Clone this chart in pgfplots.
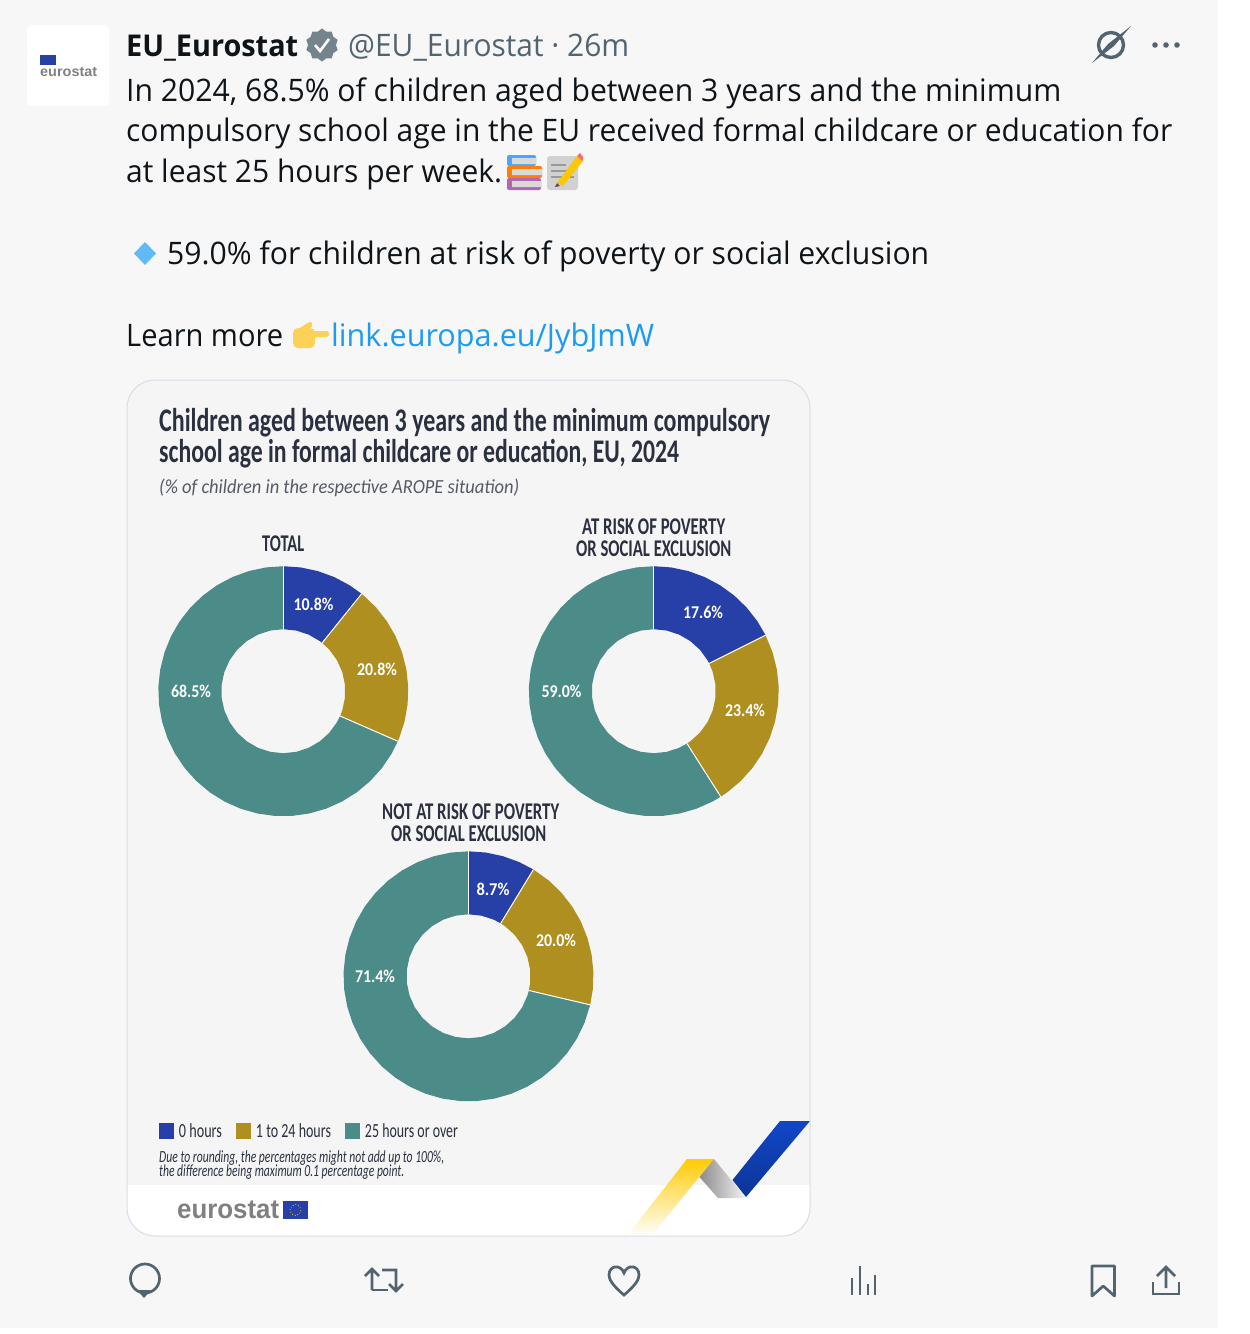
\documentclass[border=0pt]{standalone}
\usepackage{pgfplots}
\pgfplotsset{compat=1.18}
\usepgfplotslibrary{polar}
\usetikzlibrary{shapes.geometric}
\usepackage{graphicx}
\usepackage{fontspec}
\setmainfont{Open Sans}
\newfontfamily\tw{Open Sans}
\newfontfamily\ch{Carlito}
\newfontfamily\lib{Liberation Sans}
\definecolor{cblue}{HTML}{2740A8}
\definecolor{cgold}{HTML}{B08F21}
\definecolor{cteal}{HTML}{4B8C89}
\definecolor{twtext}{HTML}{0F1419}
\definecolor{twgray}{HTML}{536471}
\definecolor{twlink}{HTML}{1D9BF0}
\definecolor{bgpage}{HTML}{F7F7F7}
\definecolor{bgcard}{HTML}{F5F5F5}
\definecolor{ctitle}{HTML}{2B3040}
\definecolor{decoY}{HTML}{FFCB05}
\definecolor{decoB}{HTML}{1146C8}
\definecolor{decoD}{HTML}{0C3596}
\definecolor{cardline}{HTML}{D5DEE6}
% x, baseline y, width, font, colour, text
\newcommand{\T}[6]{\node[anchor=base west,inner sep=0pt,text=#5] at (#1,#2) {\resizebox{#3pt}{\height}{#4\ignorespaces#6}};}
\newcommand{\tweet}{\tw\fontsize{31}{31}\selectfont}
\newcommand{\lab}{\ch\bfseries\fontsize{24}{24}\selectfont}
\newcommand{\val}[4][white]{\node[inner sep=0pt,text=#1] at (#2,#3) {\resizebox{40pt}{\height}{\ch\bfseries\fontsize{18}{18}\selectfont #4}};}
\newcommand{\leg}[2]{\raisebox{4.5pt}[\height][\depth]{\resizebox{#1pt}{\height}{\ch\color{ctitle}\fontsize{20}{20}\selectfont #2}}}
\pgfplotsset{donut/.style={hide axis,scale only axis,width=250pt,height=250pt,
  xmin=0,xmax=360,ymin=0,ymax=125,clip=false,anchor=center},
  sep/.style={forget plot,draw=white,line width=1pt,no markers}}
\begin{document}
\begin{tikzpicture}[x=1pt,y=-1pt]
\path[use as bounding box,fill=white] (0,0) rectangle (1250,1334);
\fill[bgpage] (0,0) rectangle (1218,1328);
% avatar
\fill[white,rounded corners=5pt] (27,25) rectangle (109,106);
\fill[cblue] (40,55) rectangle (56,65);
\T{40}{76}{57}{\lib\bfseries\fontsize{14}{14}\selectfont}{black!50}{eurostat}
% header
\T{126}{56}{172}{\tw\bfseries\fontsize{30}{30}\selectfont}{twtext}{EU\_Eurostat}
\node[star,star points=10,star point ratio=1.18,fill=twgray!80,inner sep=0pt,minimum size=33pt] at (322,45) {};
\draw[white,line width=2.6pt] (315,45) -- (320,51) -- (329,39);
\T{348}{56}{281}{\tweet}{twgray}{@EU\_Eurostat · 26m}
\draw[twgray,line width=3.4pt] (1111,45) circle (12.5);
\fill[twgray] (1092,63) -- (1108,44) -- (1131,26) -- (1114,46) -- cycle;
\fill[twgray] (1155,45) circle (2.8) (1166,45) circle (2.8) (1177,45) circle (2.8);
% tweet text
\T{126}{101}{935}{\tweet}{twtext}{In 2024, 68.5\% of children aged between 3 years and the minimum}
\T{126}{141}{1046}{\tweet}{twtext}{compulsory school age in the EU received formal childcare or education for}
\T{126}{182}{376}{\tweet}{twtext}{at least 25 hours per week.}
\T{167}{264}{762}{\tweet}{twtext}{59.0\% for children at risk of poverty or social exclusion}
\T{126}{346}{157}{\tweet}{twtext}{Learn more}
\T{331}{346}{323}{\tweet}{twlink}{link.europa.eu/JybJmW}
% books emoji
\fill[rounded corners=2pt,fill=blue!50!cyan!70] (507,155) rectangle (536,166);
\fill[rounded corners=2pt,fill=orange] (507,166) rectangle (542,178);
\fill[rounded corners=2pt,fill=violet!60] (507,178) rectangle (541,190);
\fill[black!15] (512,158) rectangle (536,164) (512,169) rectangle (542,175) (512,181) rectangle (541,187);
% memo emoji
\fill[rounded corners=3pt,fill=black!18] (547,156) rectangle (578,190);
\draw[black!40,line width=1.4pt] (551,165) -- (566,165) (551,171) -- (568,171) (551,177) -- (574,177);
\fill[yellow!60!orange] (557,183) -- (577,156) -- (583,161) -- (563,186) -- cycle;
\fill[red!60] (577,156) -- (580,153) -- (583,157) -- (583,161) -- cycle;
\fill[black!70] (557,183) -- (555,187) -- (560,186) -- cycle;
% diamond and hand
\fill[twlink!70] (145,242) -- (156,253.5) -- (145,265) -- (134,253.5) -- cycle;
\fill[yellow!50!orange!65,rounded corners=5pt] (293,328) rectangle (315,348);
\fill[yellow!50!orange!65,rounded corners=2.5pt] (305,331) rectangle (329,337);
\fill[yellow!50!orange!65,rounded corners=2.5pt] (298,329) -- (311,321) -- (313,325) -- (306,334) -- cycle;
% card
\fill[bgcard,rounded corners=28pt] (127,380) rectangle (810,1236);
\begin{scope}
\clip[rounded corners=28pt] (127,380) rectangle (810,1236);
\fill[white] (127,1185) rectangle (810,1236);
\shade[top color=decoY,bottom color=white] (687,1159) -- (714,1159) -- (651,1236) -- (627,1236) -- cycle;
\shade[left color=black!45,right color=black!5] (714,1159) -- (746,1198) -- (718,1198) -- (699.5,1177) -- cycle;
\shade[top color=decoB,bottom color=decoD] (780,1121) -- (810,1121) -- (746,1197) -- (732.5,1180) -- cycle;
\end{scope}
\draw[cardline,line width=1pt,rounded corners=28pt] (127,380) rectangle (810,1236);
% chart text
\T{159}{431}{611}{\ch\bfseries\fontsize{33}{33}\selectfont}{ctitle}{Children aged between 3 years and the minimum compulsory}
\T{159}{462}{520}{\ch\bfseries\fontsize{33}{33}\selectfont}{ctitle}{school age in formal childcare or education, EU, 2024}
\T{159}{493}{360}{\ch\itshape\fontsize{20}{20}\selectfont}{ctitle!80}{(\% of children in the respective AROPE situation)}
\T{262}{551}{42}{\lab}{ctitle}{TOTAL}
\T{582}{534}{143}{\lab}{ctitle}{AT RISK OF POVERTY}
\T{576}{556}{155}{\lab}{ctitle}{OR SOCIAL EXCLUSION}
\T{382}{819}{177}{\lab}{ctitle}{NOT AT RISK OF POVERTY}
\T{391}{841}{155}{\lab}{ctitle}{OR SOCIAL EXCLUSION}
\T{159}{1162}{285}{\ch\itshape\fontsize{17}{17}\selectfont}{ctitle}{Due to rounding, the percentages might not add up to 100\%,}
\T{159}{1176.7}{245}{\ch\itshape\fontsize{17}{17}\selectfont}{ctitle}{the difference being maximum 0.1 percentage point.}
\T{177}{1218}{102}{\lib\bfseries\fontsize{27}{27}\selectfont}{black!50}{eurostat}
\fill[cblue] (283,1201) rectangle (308,1219);
\draw[decoY,line width=.8pt,dotted] (295.5,1210) circle (5.5);
% TOTAL: 10.8, 20.8, 68.5
\begin{polaraxis}[donut,at={(283.3pt,-691.2pt)}]
\addplot[fill=cblue,draw=none] coordinates {(90,125)(82,125)(74,125)(66,125)(58,125)(51.2,125)(51.2,62)(54,62)(66,62)(78,62)(90,62)} -- cycle;
\addplot[fill=cgold,draw=none] coordinates {(51.2,125)(50,125)(42,125)(34,125)(26,125)(18,125)(10,125)(2,125)(-6,125)(-14,125)(-22,125)(-23.6,125)(-23.6,62)(-18,62)(-6,62)(6,62)(18,62)(30,62)(42,62)(51.2,62)} -- cycle;
\addplot[fill=cteal,draw=none] coordinates {(-23.6,125)(-30,125)(-38,125)(-46,125)(-54,125)(-62,125)(-70,125)(-78,125)(-86,125)(-94,125)(-102,125)(-110,125)(-118,125)(-126,125)(-134,125)(-142,125)(-150,125)(-158,125)(-166,125)(-174,125)(-182,125)(-190,125)(-198,125)(-206,125)(-214,125)(-222,125)(-230,125)(-238,125)(-246,125)(-254,125)(-262,125)(-270,125)(-270,62)(-258,62)(-246,62)(-234,62)(-222,62)(-210,62)(-198,62)(-186,62)(-174,62)(-162,62)(-150,62)(-138,62)(-126,62)(-114,62)(-102,62)(-90,62)(-78,62)(-66,62)(-54,62)(-42,62)(-30,62)(-23.6,62)} -- cycle;
\addplot[sep] coordinates {(90,62)(90,125)};
\addplot[sep] coordinates {(51.2,62)(51.2,125)};
\addplot[sep] coordinates {(-23.6,62)(-23.6,125)};
\end{polaraxis}
% AT RISK: 17.6, 23.4, 59.0
\begin{polaraxis}[donut,at={(653.8pt,-691.2pt)}]
\addplot[fill=cblue,draw=none] coordinates {(90,125)(82,125)(74,125)(66,125)(58,125)(50,125)(42,125)(34,125)(26.64,125)(26.64,62)(30,62)(42,62)(54,62)(66,62)(78,62)(90,62)} -- cycle;
\addplot[fill=cgold,draw=none] coordinates {(26.64,125)(18,125)(10,125)(2,125)(-6,125)(-14,125)(-22,125)(-30,125)(-38,125)(-46,125)(-54,125)(-57.6,125)(-57.6,62)(-54,62)(-42,62)(-30,62)(-18,62)(-6,62)(6,62)(18,62)(26.64,62)} -- cycle;
\addplot[fill=cteal,draw=none] coordinates {(-57.6,125)(-62,125)(-70,125)(-78,125)(-86,125)(-94,125)(-102,125)(-110,125)(-118,125)(-126,125)(-134,125)(-142,125)(-150,125)(-158,125)(-166,125)(-174,125)(-182,125)(-190,125)(-198,125)(-206,125)(-214,125)(-222,125)(-230,125)(-238,125)(-246,125)(-254,125)(-262,125)(-270,125)(-270,62)(-258,62)(-246,62)(-234,62)(-222,62)(-210,62)(-198,62)(-186,62)(-174,62)(-162,62)(-150,62)(-138,62)(-126,62)(-114,62)(-102,62)(-90,62)(-78,62)(-66,62)(-57.6,62)} -- cycle;
\addplot[sep] coordinates {(90,62)(90,125)};
\addplot[sep] coordinates {(26.64,62)(26.64,125)};
\addplot[sep] coordinates {(-57.6,62)(-57.6,125)};
\end{polaraxis}
% NOT AT RISK: 8.7, 20.0, 71.4
\begin{polaraxis}[donut,at={(468.5pt,-976.3pt)},
  legend columns=3,legend cell align=left,
  legend style={at={(-0.738,-0.086)},anchor=north west,draw=none,fill=none,inner sep=0pt,outer sep=0pt,
    nodes={inner sep=0pt},
    /tikz/every even column/.append style={column sep=14pt},
    /tikz/every odd column/.append style={column sep=5pt}},
  legend image code/.code={\fill[#1] (0pt,-3pt) rectangle (15pt,13pt);}]
\addplot[fill=cblue,draw=none] coordinates {(90,125)(82,125)(74,125)(66,125)(58.7,125)(58.7,62)(66,62)(78,62)(90,62)} -- cycle;
\addlegendentry{\leg{43}{0 hours}}
\addplot[fill=cgold,draw=none] coordinates {(58.7,125)(50,125)(42,125)(34,125)(26,125)(18,125)(10,125)(2,125)(-6,125)(-13.2,125)(-13.2,62)(-6,62)(6,62)(18,62)(30,62)(42,62)(54,62)(58.7,62)} -- cycle;
\addlegendentry{\leg{75}{1 to 24 hours}}
\addplot[fill=cteal,draw=none] coordinates {(-13.2,125)(-22,125)(-30,125)(-38,125)(-46,125)(-54,125)(-62,125)(-70,125)(-78,125)(-86,125)(-94,125)(-102,125)(-110,125)(-118,125)(-126,125)(-134,125)(-142,125)(-150,125)(-158,125)(-166,125)(-174,125)(-182,125)(-190,125)(-198,125)(-206,125)(-214,125)(-222,125)(-230,125)(-238,125)(-246,125)(-254,125)(-262,125)(-270,125)(-270,62)(-258,62)(-246,62)(-234,62)(-222,62)(-210,62)(-198,62)(-186,62)(-174,62)(-162,62)(-150,62)(-138,62)(-126,62)(-114,62)(-102,62)(-90,62)(-78,62)(-66,62)(-54,62)(-42,62)(-30,62)(-18,62)(-13.2,62)} -- cycle;
\addlegendentry{\leg{93}{25 hours or over}}
\addplot[sep] coordinates {(90,62)(90,125)};
\addplot[sep] coordinates {(58.7,62)(58.7,125)};
\addplot[sep] coordinates {(-13.2,62)(-13.2,125)};
\end{polaraxis}
% value labels
\val{313.5}{604}{10.8\%}
\val{377}{669}{20.8\%}
\val{191}{691}{68.5\%}
\val{703}{612}{17.6\%}
\val{745}{710}{23.4\%}
\val{561.5}{691}{59.0\%}
\node[inner sep=0pt,text=white] at (493,889) {\resizebox{33pt}{\height}{\ch\bfseries\fontsize{18}{18}\selectfont 8.7\%}};
\val{556}{940}{20.0\%}
\val{375}{976}{71.4\%}
% action icons
\begin{scope}[draw=twgray,line width=2.7pt]
\draw (145,1278.5) circle (14.5);
\fill[twgray] (137,1290) -- (144,1298) -- (151,1290) -- cycle;
\draw (372,1290) -- (372,1271) (365,1276) -- (372,1269) -- (379,1276);
\draw (372,1290) -- (388,1290);
\draw (382,1270) -- (396,1270) -- (396,1290) (389,1284) -- (396,1291) -- (403,1284);
\draw (624,1295) .. controls (612,1285) and (609,1279) .. (609,1275) .. controls (609,1265) and (621,1264) .. (624,1273) .. controls (627,1264) and (639,1265) .. (639,1275) .. controls (639,1279) and (636,1285) .. (624,1295) -- cycle;
\draw (852,1295) -- (852,1278) (860,1295) -- (860,1266) (868,1295) -- (868,1284) (875,1295) -- (875,1275);
\draw[line join=round] (1092,1296) -- (1092,1266) -- (1114.5,1266) -- (1114.5,1296) -- (1103.2,1286) -- cycle;
\draw (1166,1288) -- (1166,1267) (1157,1276) -- (1166,1267) -- (1175,1276);
\draw (1153,1282) -- (1153,1294) -- (1179,1294) -- (1179,1282);
\end{scope}
\end{tikzpicture}
\end{document}
